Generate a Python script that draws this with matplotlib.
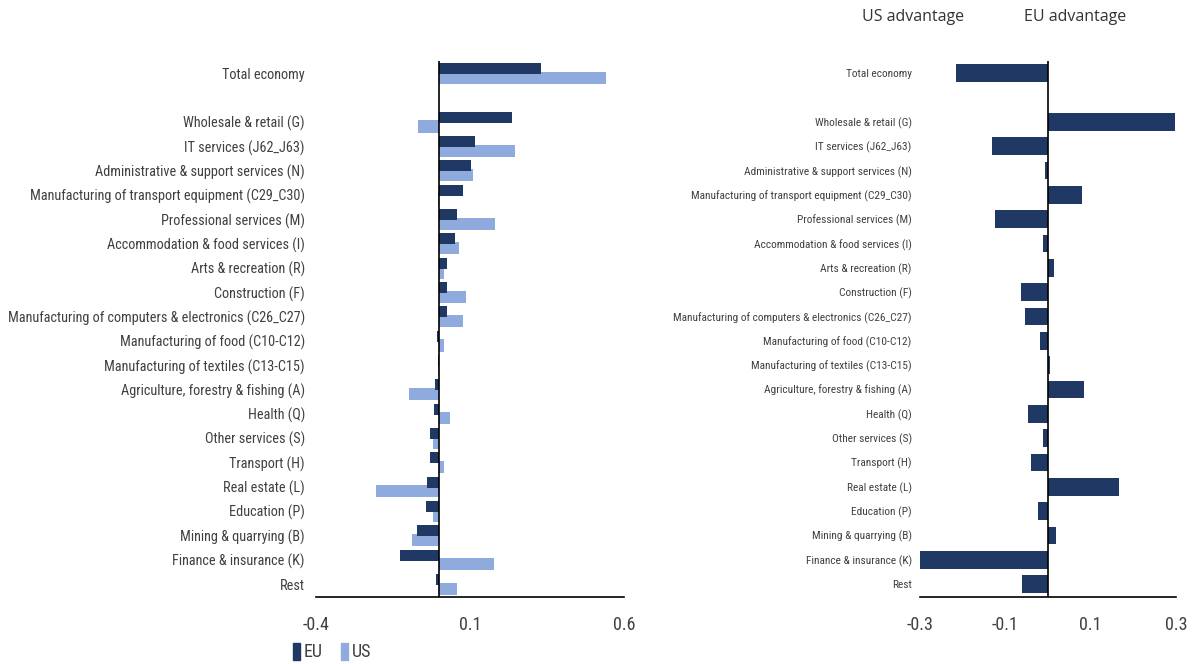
import numpy as np
import matplotlib
matplotlib.use("Agg")
import matplotlib.pyplot as plt
from matplotlib import font_manager
from matplotlib.patches import Patch

# sectors, top to bottom (Total economy is followed by an empty slot)
sectors = [
    "Total economy",
    "Wholesale & retail (G)",
    "IT services (J62_J63)",
    "Administrative & support services (N)",
    "Manufacturing of transport equipment (C29_C30)",
    "Professional services (M)",
    "Accommodation & food services (I)",
    "Arts & recreation (R)",
    "Construction (F)",
    "Manufacturing of computers & electronics (C26_C27)",
    "Manufacturing of food (C10-C12)",
    "Manufacturing of textiles (C13-C15)",
    "Agriculture, forestry & fishing (A)",
    "Health (Q)",
    "Other services (S)",
    "Transport (H)",
    "Real estate (L)",
    "Education (P)",
    "Mining & quarrying (B)",
    "Finance & insurance (K)",
    "Rest",
]

eu = [0.331, 0.237, 0.117, 0.104, 0.078, 0.058, 0.052, 0.026, 0.026, 0.026,
      -0.006, -0.005, -0.013, -0.016, -0.029, -0.029, -0.039, -0.042, -0.071,
      -0.127, -0.010]
us = [0.542, -0.068, 0.247, 0.110, -0.005, 0.182, 0.065, 0.016, 0.088, 0.078,
      0.016, -0.005, -0.097, 0.036, -0.019, 0.016, -0.205, -0.019, -0.088,
      0.179, 0.058]
# EU minus US (positive = EU advantage)
diff = [-0.216, 0.298, -0.131, -0.007, 0.080, -0.124, -0.012, 0.014, -0.063,
        -0.054, -0.019, 0.005, 0.084, -0.047, -0.012, -0.040, 0.166, -0.023,
        0.019, -0.306, -0.061]

left_ticks = [-0.4, 0.1, 0.6]
right_ticks = [-0.3, -0.1, 0.1, 0.3]

EU_COL = "#1F3864"
US_COL = "#8FAADC"
TXT = "#404040"

# pick a narrow font if one is installed
installed = {f.name for f in font_manager.fontManager.ttflist}
narrow = None
for cand in ["Roboto Condensed", "Liberation Sans Narrow", "Arial Narrow"]:
    if cand in installed:
        narrow = cand
        break
if narrow is not None:
    FONT = {"family": [narrow, "DejaVu Sans"]}
    scale = 1.0
else:
    FONT = {"family": ["Liberation Sans", "DejaVu Sans"]}
    scale = 0.82

ypos = np.array([0] + list(range(2, 22)))

fig = plt.figure(figsize=(11.93, 6.64), dpi=100)

ax1 = fig.add_axes([316 / 1193, 67 / 664, 308 / 1193, 536 / 664])
ax1.barh(ypos + 0.19, us, height=0.5, color=US_COL, zorder=2)
ax1.barh(ypos - 0.19, eu, height=0.45, color=EU_COL, zorder=3)
ax1.set_xlim(-0.4, 0.6)
ax1.set_xticks(left_ticks)
ax1.set_xticklabels([f"{t:g}" for t in left_ticks])

ax2 = fig.add_axes([920 / 1193, 67 / 664, 256 / 1193, 536 / 664])
ax2.barh(ypos, diff, height=0.72, color=EU_COL, zorder=2)
ax2.set_xlim(-0.3, 0.3)
ax2.set_xticks(right_ticks)
ax2.set_xticklabels([f"{t:g}" for t in right_ticks])

for ax, fs, pad in [(ax1, 10.3, 8), (ax2, 8.2, 6)]:
    ax.set_ylim(21.53, -0.5)
    ax.set_yticks(ypos)
    ax.set_yticklabels(sectors, fontsize=fs * scale, color=TXT, **FONT)
    ax.axvline(0, color="black", lw=1.2, zorder=4)
    for s in ["top", "right", "left"]:
        ax.spines[s].set_visible(False)
    ax.spines["bottom"].set_linewidth(1.2)
    ax.tick_params(axis="both", length=0)
    ax.tick_params(axis="y", pad=pad)
    ax.tick_params(axis="x", pad=14)
    for lab in ax.get_xticklabels():
        lab.update(FONT)
        lab.set_fontsize(13 * scale)
        lab.set_color(TXT)

handles = [Patch(color=EU_COL, label="EU"), Patch(color=US_COL, label="US")]
leg = fig.legend(handles=handles, loc="center left",
                 bbox_to_anchor=(277 / 1193, 1 - 652 / 664),
                 ncol=2, frameon=False, handlelength=0.4, handleheight=1.1,
                 handletextpad=0.2, columnspacing=1.0,
                 prop=dict(size=13 * scale, **FONT))
for t in leg.get_texts():
    t.set_color(TXT)

fig.text(913 / 1193, 1 - 17 / 664, "US advantage", ha="center", va="center",
         fontsize=11.5, color="#333333", family=["Open Sans", "DejaVu Sans"])
fig.text(1075 / 1193, 1 - 17 / 664, "EU advantage", ha="center", va="center",
         fontsize=11.5, color="#333333", family=["Open Sans", "DejaVu Sans"])

fig.savefig("out.png", dpi=100)
